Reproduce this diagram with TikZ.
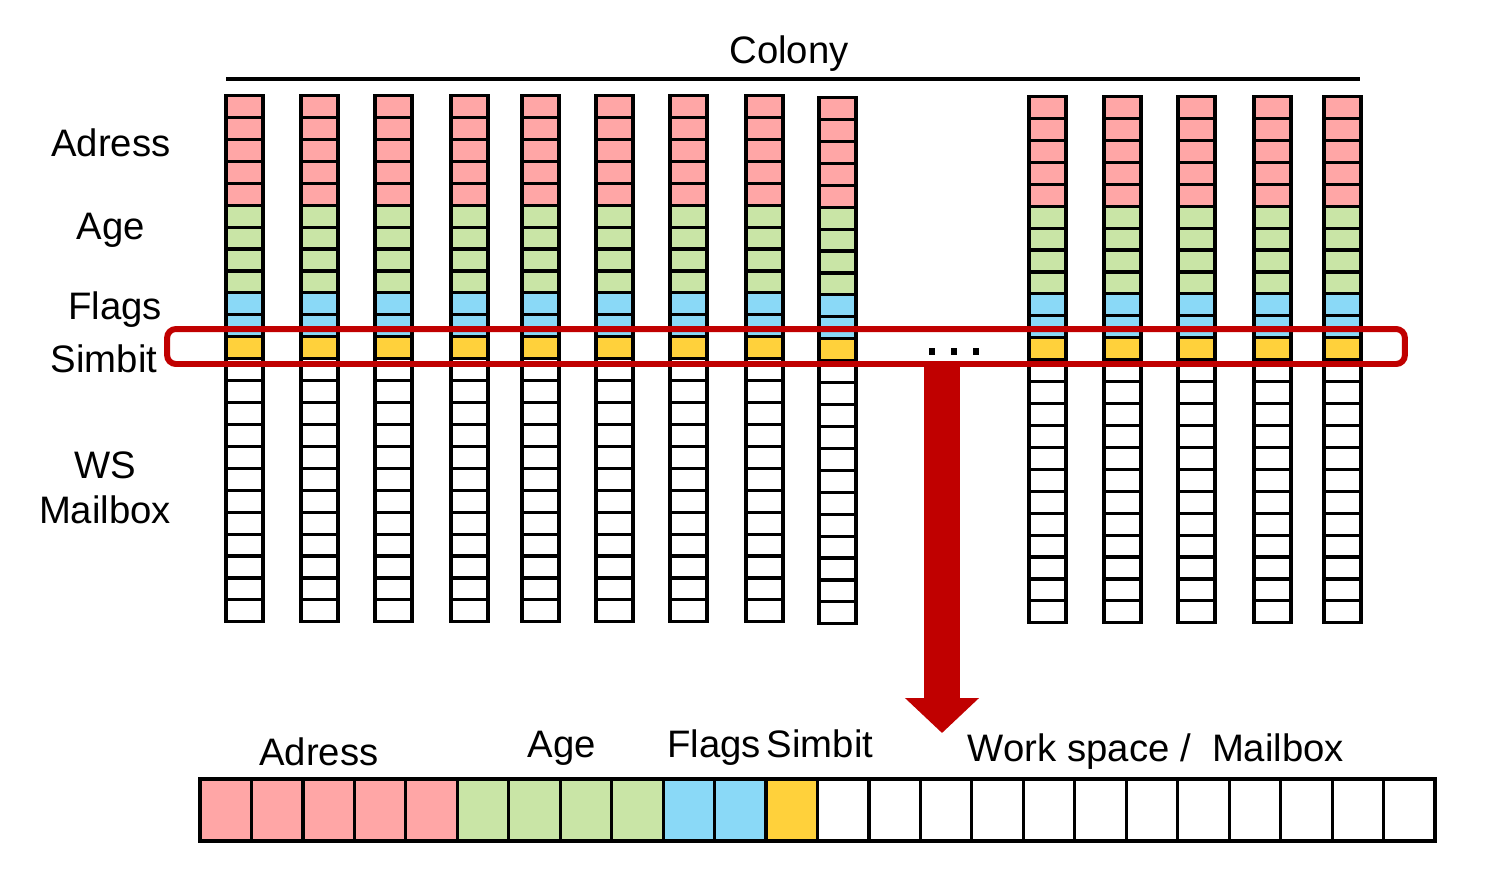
\documentclass[tikz,border=0pt]{standalone}
\usepackage{fontspec}
\setmainfont{Liberation Sans}
\usetikzlibrary{arrows.meta}
\definecolor{adrpink}{HTML}{FFA6A6}
\definecolor{agegreen}{HTML}{C9E5A6}
\definecolor{flagblue}{HTML}{8AD9F7}
\definecolor{simyellow}{HTML}{FFD13B}
\definecolor{selred}{HTML}{C00000}
\begin{document}
\begin{tikzpicture}[x=0.02cm,y=-0.02cm]
\tikzstyle{cell} = [draw, line width=1.8pt]
\tikzstyle{lbl} = [anchor=base, inner sep=0pt, font=\fontsize{21.8}{26}\selectfont]
\tikzstyle{selbox} = [draw=selred, line width=3.4pt, rounded corners=5pt, minimum width=24.76cm, minimum height=0.7cm, inner sep=0pt]
\useasboundingbox (0,0) rectangle (1500,880);
% colony header
\node[lbl] (colony) at (789,63) {Colony};
\coordinate (cl) at (226,79);
\coordinate (cr) at (1360,79);
\draw[line width=1.8pt] (cl) -- (cr);
% side labels
\node[lbl] (adr) at (111,156) {Adress};
\node[lbl] (age) at (111,239) {Age};
\node[lbl] (flags) at (115,319) {Flags};
\node[lbl] (sim) at (104,372) {Simbit};
\node[lbl] (ws) at (105,478) {WS};
\node[lbl] (mail) at (105,523) {Mailbox};
% the individuals of the colony
\foreach \x/\t in {226/95.5,301/95.5,375/95.5,451/95.5,522/95.5,596/95.5,670/95.5,746/95.5,819/97.5,
                   1029/96.5,1104/96.5,1178/96.5,1254/96.5,1324/96.5}
  \foreach \a/\b/\col in {0/4/adrpink,5/8/agegreen,9/10/flagblue,11/11/simyellow,12/23/white}
    \foreach \i in {\a,...,\b}
      \draw[cell, fill=\col] (\x,\t+21.93*\i) rectangle ++(37,21.93);
\foreach \d in {932,954,976}
  \fill (\d-3,348) rectangle ++(6,7);
% selected simbit row
\node[selbox] (sel) at (786,346.5) {};
\coordinate (tip) at (942,733);
\draw[selred, line width=0.72cm, -{Triangle[length=0.7cm,width=1.44cm]}] (sel.south -| tip) -- (tip);
% one individual in detail
\node[lbl] (badr) at (319,765) {Adress};
\node[lbl] (bage) at (562,757) {Age};
\node[lbl] (bflags) at (714,757) {Flags};
\node[lbl] (bsim) at (820,757) {Simbit};
\node[lbl] (bws) at (1156,761) {Work space /\ \ Mailbox};
\foreach \a/\b/\col in {0/4/adrpink,5/8/agegreen,9/10/flagblue,11/11/simyellow,12/23/white}
  \foreach \i in {\a,...,\b}
    \draw[cell, fill=\col] (200+51.46*\i,779) rectangle ++(51.46,62);
\end{tikzpicture}
\end{document}
